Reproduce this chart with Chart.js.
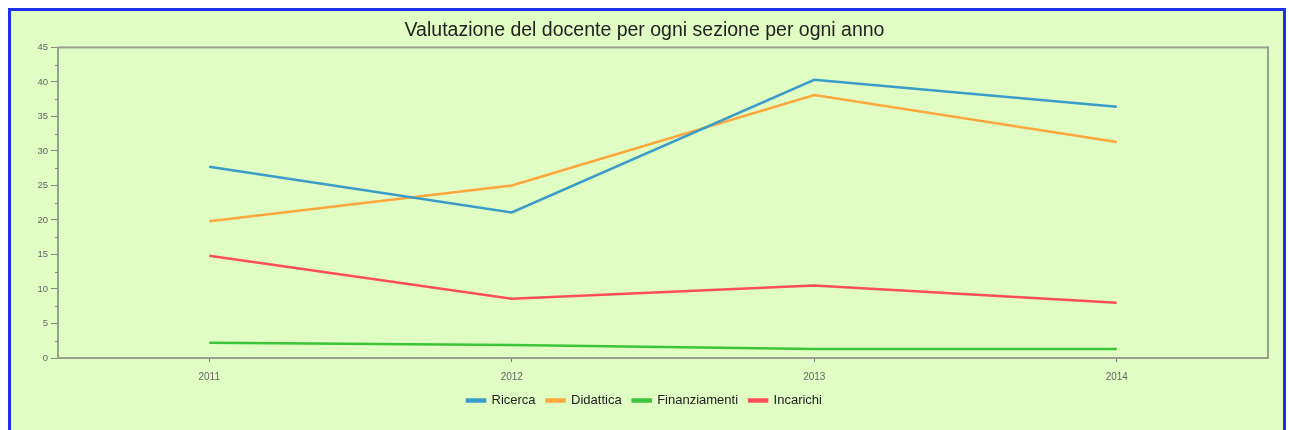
<!DOCTYPE html>
<html lang="it">
  <head>
    <meta charset="UTF-8" />
    <title>Valutazione del docente</title>
    <script src="https://cdn.jsdelivr.net/npm/chart.js"></script>
    <style>
      body {
        margin: 0;
        background: #ffffff;
        font-family: Arial, "Liberation Sans", sans-serif;
      }
      .frame {
        position: absolute;
        left: 8px;
        top: 8px;
        width: 1272px;
        height: 440px;
        border: 3px solid #1f2ff0;
        background: #e0fdc3;
      }
      .chart-box {
        position: relative;
        width: 1272px;
        height: 419px;
      }
    </style>
  </head>
  <body>
    <div class="frame">
      <div class="chart-box">
        <canvas id="chart"></canvas>
      </div>
    </div>

    <script>
      // chart data
      const years = ["2011", "2012", "2013", "2014"];
      const ricerca = [27.7, 21.1, 40.3, 36.4];
      const didattica = [19.8, 25.0, 38.1, 31.3];
      const finanziamenti = [2.2, 1.9, 1.3, 1.3];
      const incarichi = [14.8, 8.6, 10.5, 8.0];

      const yMin = 0;
      const yMax = 45;
      const yStep = 5;

      // box around the plot + short minor ticks on the y axis
      const frameBox = {
        id: "frameBox",
        afterDraw(chart) {
          const { ctx, chartArea } = chart;
          const y = chart.scales.y;
          ctx.save();
          ctx.strokeStyle = "#9aa08e";
          ctx.lineWidth = 2;
          ctx.strokeRect(
            chartArea.left,
            chartArea.top,
            chartArea.right - chartArea.left,
            chartArea.bottom - chartArea.top
          );
          ctx.lineWidth = 1;
          ctx.strokeStyle = "#8a8a80";
          for (let v = yMin + yStep / 2; v < yMax; v += yStep) {
            const py = Math.round(y.getPixelForValue(v)) + 0.5;
            ctx.beginPath();
            ctx.moveTo(chartArea.left - 3, py);
            ctx.lineTo(chartArea.left, py);
            ctx.stroke();
          }
          ctx.restore();
        },
      };

      function makeSet(label, data, color) {
        return {
          label: label,
          data: data,
          borderColor: color,
          backgroundColor: color,
          borderWidth: 2.5,
          pointRadius: 0,
          tension: 0,
          fill: false,
        };
      }

      new Chart(document.getElementById("chart"), {
        type: "line",
        data: {
          labels: years,
          datasets: [
            makeSet("Ricerca", ricerca, "#3a9cc8"),
            makeSet("Didattica", didattica, "#ffa63c"),
            makeSet("Finanziamenti", finanziamenti, "#3cc43c"),
            makeSet("Incarichi", incarichi, "#ff4d5c"),
          ],
        },
        options: {
          responsive: true,
          maintainAspectRatio: false,
          animation: false,
          layout: {
            padding: { left: 10, right: 15, top: 6, bottom: 13 },
          },
          scales: {
            x: {
              offset: true,
              afterFit(scale) {
                // labels overlap into the gap above the legend
                scale.height = scale.height - 9;
              },
              grid: {
                display: true,
                drawOnChartArea: false,
                tickLength: 4,
                color: "#777777",
                offset: false,
              },
              border: { display: false },
              ticks: {
                color: "#666666",
                font: { size: 10, family: "Arial" },
                padding: 9,
              },
            },
            y: {
              min: yMin,
              max: yMax,
              afterFit(scale) {
                scale.width = 37;
              },
              grid: {
                display: true,
                drawOnChartArea: false,
                tickLength: 7,
                color: "#888880",
              },
              border: { display: false },
              ticks: {
                stepSize: yStep,
                color: "#666666",
                font: { size: 9.5, family: "Arial" },
                padding: 3,
              },
            },
          },
          plugins: {
            title: {
              display: true,
              text: "Valutazione del docente per ogni sezione per ogni anno",
              color: "#222222",
              font: { size: 19.5, family: "Arial", weight: "normal" },
              padding: { top: 2, bottom: 5 },
            },
            legend: {
              position: "bottom",
              labels: {
                boxWidth: 18,
                boxHeight: 2,
                color: "#222222",
                font: { size: 13, family: "Arial" },
                padding: 11,
              },
            },
            tooltip: { enabled: false },
          },
        },
        plugins: [frameBox],
      });
    </script>
  </body>
</html>
